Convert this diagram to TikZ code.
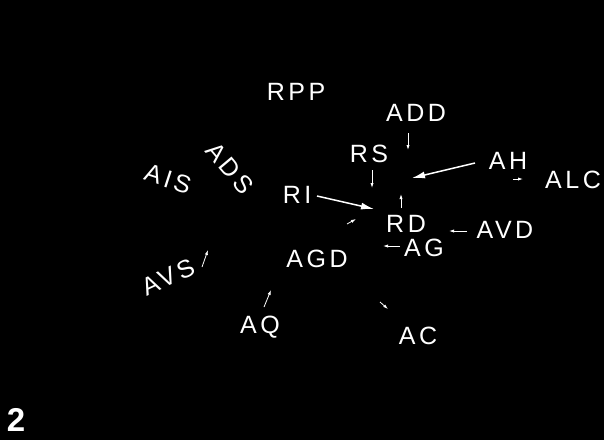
\documentclass[tikz,border=0pt]{standalone}
\usepackage{fontspec}
\setmainfont{Liberation Sans}[LetterSpace=14]
\usetikzlibrary{arrows.meta}
\begin{document}
\begin{tikzpicture}[x=1pt,y=-1pt,
  lab/.style={text=white,font=\fontsize{25}{25}\selectfont,inner sep=0pt,anchor=base},
  rlab/.style={text=white,font=\fontsize{25}{25}\selectfont,inner sep=0pt,anchor=center},
  bigarrow/.style={draw=white,line width=1.5pt,-{Latex[length=13pt,width=7pt]}},
  smallarrow/.style={draw=white,line width=0.8pt,-{Latex[length=5pt,width=3.2pt]}},
]
\fill[black] (0,0) rectangle (604,440);
\useasboundingbox (0,0) rectangle (604,440);

% labels
\node[lab] (rpp) at (296,100) {RPP};
\node[lab] (add) at (416,121) {ADD};
\node[lab] (rs)  at (369,162) {RS};
\node[lab] (ah)  at (508,169) {AH};
\node[lab] (alc) at (573,188) {ALC};
\node[lab] (ri)  at (297,203) {RI};
\node[lab] (rd)  at (406,232) {RD};
\node[lab] (avd) at (505,238) {AVD};
\node[lab] (ag)  at (424,256) {AG};
\node[lab] (agd) at (317,267) {AGD};
\node[lab] (ac)  at (418,344) {AC};
\node[lab] (aq)  at (260,333) {AQ};
\node[rlab,rotate=25]  (avs) at (168,277) {AVS};
\node[rlab,rotate=-18] (ais) at (168,179) {AIS};
\node[rlab,rotate=-50] (ads) at (230,168) {ADS};
\node[text=white,font=\fontsize{33}{33}\selectfont\bfseries,inner sep=0pt,anchor=base] (two) at (16,431) {2};

% arrow end points
\coordinate (addA) at (408,133);  \coordinate (addB) at (408,150);
\coordinate (rsA)  at (372,170);  \coordinate (rsB)  at (372,188);
\coordinate (ahA)  at (475,163);  \coordinate (ahB)  at (412,178);
\coordinate (alcA) at (513,179);  \coordinate (alcB) at (523,179);
\coordinate (rdA)  at (401,208);  \coordinate (rdB)  at (401,194);
\coordinate (riA)  at (317,196);  \coordinate (riB)  at (374,209);
\coordinate (tA)   at (347,224);  \coordinate (tB)   at (356,219);
\coordinate (avdA) at (467,231); \coordinate (avdB) at (449,231);
\coordinate (agA)  at (400,246);  \coordinate (agB)  at (383,246);
\coordinate (acA)  at (380,302);  \coordinate (acB)  at (388,309);
\coordinate (avsA) at (202,267);  \coordinate (avsB) at (208,250);
\coordinate (aqA)  at (264,307);  \coordinate (aqB)  at (271,290);

% arrows
\draw[smallarrow] (addA) -- (addB);
\draw[smallarrow] (rsA) -- (rsB);
\draw[bigarrow]   (ahA) -- (ahB);
\draw[smallarrow] (alcA) -- (alcB);
\draw[smallarrow] (rdA) -- (rdB);
\draw[bigarrow]   (riA) -- (riB);
\draw[smallarrow] (tA) -- (tB);
\draw[smallarrow] (avdA) -- (avdB);
\draw[smallarrow] (agA) -- (agB);
\draw[smallarrow] (acA) -- (acB);
\draw[smallarrow] (avsA) -- (avsB);
\draw[smallarrow] (aqA) -- (aqB);
\end{tikzpicture}
\end{document}
